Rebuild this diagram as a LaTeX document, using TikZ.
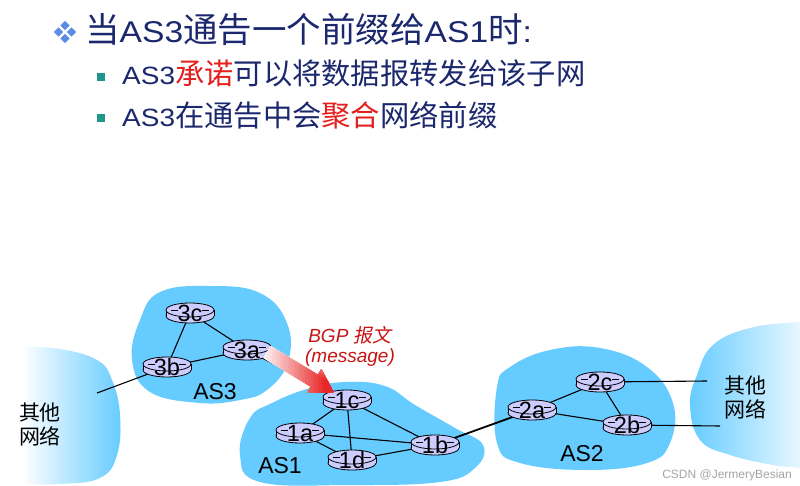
\documentclass[tikz,border=0pt]{standalone}
\usepackage{fontspec}
\setmainfont{Liberation Sans}
\newfontfamily\cjk{Noto Sans CJK SC}
\newfontfamily\cjkit[FakeSlant=0.2]{Noto Sans CJK SC}
\newfontfamily\latw[FakeStretch=1.12]{Liberation Sans}
\usetikzlibrary{calc}
\pgfdeclarelayer{bg}
\pgfdeclarelayer{links}
\pgfsetlayers{bg,links,main}
\definecolor{navy}{RGB}{28,40,110}
\definecolor{hlred}{RGB}{230,30,30}
\definecolor{teal2}{RGB}{30,150,140}
\definecolor{diam}{RGB}{90,140,235}
\definecolor{asblue}{RGB}{102,204,255}
\definecolor{rfill}{RGB}{204,204,255}
\definecolor{msgred}{RGB}{200,20,20}
\definecolor{arrowred}{RGB}{232,40,40}
\definecolor{wm}{RGB}{165,165,165}
\newcommand\ttlat[1]{{\latw\fontsize{30}{34}\selectfont #1}}
\newcommand\sublat[1]{{\latw\fontsize{25}{30}\selectfont #1}}
\tikzset{
  rlabel/.style={inner sep=0pt, font=\fontsize{23.5}{26}\selectfont, text height=17pt, text depth=0pt},
  aslabel/.style={inner sep=0pt, font=\fontsize{23}{26}\selectfont},
  othernet/.style={inner sep=0pt, align=center, font=\cjk\fontsize{21}{24}\selectfont},
  msg/.style={inner sep=0pt, text=msgred, font=\itshape\fontsize{19}{22}\selectfont},
  link/.style={line width=1.1pt},
  biglink/.style={line width=1.8pt},
  textline/.style={anchor=base west, inner sep=0pt, text=navy}
}
\newcommand\router[3]{%
  \begin{scope}[shift={#2}]
    \filldraw[fill=rfill,draw=black,line width=0.8pt] (0,3) ellipse [x radius=24,y radius=7];
    \fill[rfill] (-24,-3) rectangle (24,3);
    \draw[line width=0.8pt] (-24,-3) -- (-24,3) (24,-3) -- (24,3);
    \filldraw[fill=rfill,draw=black,line width=0.8pt] (0,-3) ellipse [x radius=24,y radius=7];
    \draw[line width=0.6pt] (-19,-3) -- (-12,-3) (12,-3) -- (19,-3);
  \end{scope}
  \node[rlabel] (#1) at #2 {#3};}
\begin{document}
\begin{tikzpicture}[x=1pt,y=-1pt]
\useasboundingbox (0,0) rectangle (800,486);

% blobs
\begin{pgfonlayer}{bg}
\fill[white] (0,0) rectangle (800,486);
\fill[asblue] plot[smooth cycle, tension=0.7] coordinates {(140,320) (160,292) (210,286) (260,293) (287,323) (288,362) (267,390) (240,400) (200,403) (150,392) (132,360)};
\fill[asblue] plot[smooth cycle, tension=0.7] coordinates {(250,418) (272,403) (307,389) (345,382) (385,386) (415,405) (455,428) (483,445) (475,468) (440,482) (350,485) (260,482) (240,455)};
\fill[asblue] plot[smooth cycle, tension=0.7] coordinates {(497,387) (510,367) (550,350) (600,348) (647,367) (673,403) (670,443) (647,463) (587,470) (520,463) (497,443)};
\shade[left color=white, right color=asblue] plot[smooth, tension=0.7] coordinates {(22,347) (60,349) (97,360) (112,380) (120,415) (117,455) (100,478) (60,484) (22,484)} -- cycle;
\shade[left color=asblue, right color=white] plot[smooth, tension=0.7] coordinates {(820,470) (800,468) (773,465) (730,455) (700,440) (690,405) (697,375) (713,345) (750,328) (800,322) (820,322)} -- cycle;
\end{pgfonlayer}

% bullets
\foreach \dx/\dy in {0/-6.5,-6.5/0,6.5/0,0/6.5}
  \fill[diam,shift={(65+\dx,32+\dy)}] (0,-4.6) -- (4.6,0) -- (0,4.6) -- (-4.6,0) -- cycle;
\fill[teal2] (97,73) rectangle (105,81);
\fill[teal2] (97,114) rectangle (105,122);

% text lines
\node[textline] (t1) at (85,43) {\cjk\fontsize{34.5}{40}\selectfont 当\ttlat{AS3}通告一个前缀给\ttlat{AS1}时\ttlat{:}};
\node[textline] (t2) at (122,85) {\sublat{AS3}{\cjk\fontsize{29.3}{34}\selectfont\textcolor{hlred}{承诺}可以将数据报转发给该子网}};
\node[textline] (t3) at (122,127) {\sublat{AS3}{\cjk\fontsize{29.3}{34}\selectfont 在通告中会\textcolor{hlred}{聚合}网络前缀}};

% routers
\router{r3c}{(190,313)}{3c}
\router{r3a}{(247,350)}{3a}
\router{r3b}{(167,367)}{3b}
\router{r1c}{(347,400)}{1c}
\router{r1a}{(300,433)}{1a}
\router{r1d}{(352,460)}{1d}
\router{r1b}{(435,445)}{1b}
\router{r2a}{(532,410)}{2a}
\router{r2c}{(600,382)}{2c}
\router{r2b}{(627,425)}{2b}

\coordinate (e3b) at (97,393);
\coordinate (e2c) at (707,381);
\coordinate (e2b) at (720,426);

\begin{pgfonlayer}{links}
\draw[link] (r3c.center) -- (r3b.center);
\draw[link] (r3c.center) -- (r3a.center);
\draw[link] (r3b.center) -- (r3a.center);
\draw[link] (r3b.center) -- (e3b);
\draw[biglink] (r3a.center) -- (r1c.center);
\draw[link] (r1c.center) -- (r1a.center);
\draw[link] (r1c.center) -- (r1d.center);
\draw[link] (r1c.center) -- (r1b.center);
\draw[link] (r1a.center) -- (r1b.center);
\draw[link] (r1a.center) -- (r1d.center);
\draw[link] (r1d.center) -- (r1b.center);
\draw[biglink] (r1b.center) -- (r2a.center);
\draw[link] (r2a.center) -- (r2c.center);
\draw[link] (r2a.center) -- (r2b.center);
\draw[link] (r2c.center) -- (r2b.center);
\draw[link] (r2c.center) -- (e2c);
\draw[link] (r2b.center) -- (e2b);
\end{pgfonlayer}

% BGP message arrow
\begin{scope}[shift={(267,352)}]
  \begin{scope}[x={(0.857pt,-0.519pt)}, y={(0.519pt,0.857pt)}]
    \clip (0,-7) -- (55,-7) -- (55,-14) -- (78,0) -- (55,14) -- (55,7) -- (0,7) -- cycle;
    \foreach \i [evaluate=\i as \p using {int(min(100,4*\i))}] in {0,...,26}
      \fill[arrowred!\p!white] ({3*\i},-15) rectangle ({3*\i+3.4},15);
  \end{scope}
\end{scope}

% labels
\node[aslabel] (las3) at (215,392) {AS3};
\node[aslabel] (las1) at (280,466) {AS1};
\node[aslabel] (las2) at (582,454) {AS2};
\node[othernet] (onl) at (40,425) {其他\\网络};
\node[othernet] (onr) at (745,398) {其他\\网络};
\node[msg] (m1) at (350,335) {BGP {\cjkit 报文}};
\node[msg] (m2) at (350,357.5) {(message)};
\node[anchor=base east, inner sep=0pt, text=wm, font=\fontsize{12}{14}\selectfont] (wmk) at (792,478) {CSDN @JermeryBesian};
\end{tikzpicture}
\end{document}
